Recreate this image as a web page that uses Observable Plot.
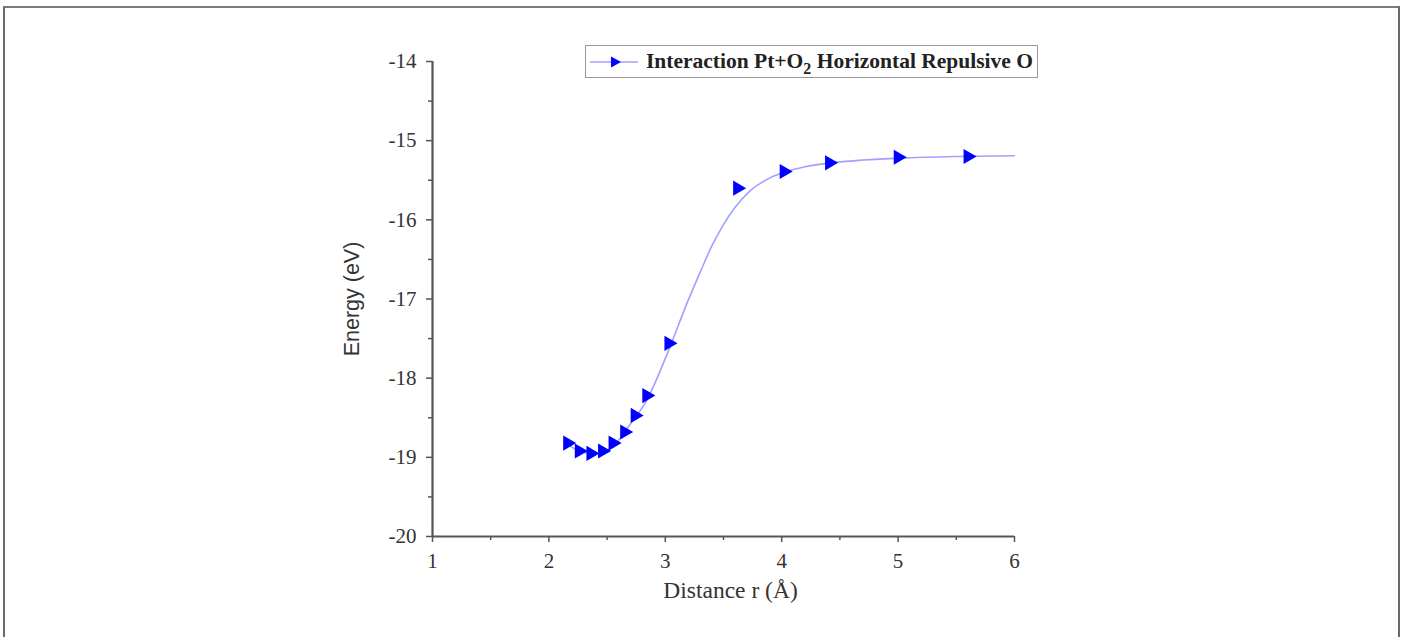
<!DOCTYPE html>
<html>
<head>
<meta charset="utf-8">
<script src="https://cdn.jsdelivr.net/npm/d3@7"></script>
<script src="https://cdn.jsdelivr.net/npm/@observablehq/plot@0.6"></script>
<style>
  html, body { margin: 0; padding: 0; background: #fff; }
  #wrap { position: relative; width: 1405px; height: 637px; overflow: hidden; }
  #frame { position: absolute; left: 3px; top: 6px; width: 1393px; height: 700px;
           border-left: 2px solid #6a6a6a; border-top: 2px solid #7a7a7a; border-right: 2px solid #6a6a6a; }
  #legend { position: absolute; left: 585px; top: 45px; width: 453px; height: 33px;
            border: 1.5px solid #999; background: #fff; box-sizing: border-box;
            font-family: "Liberation Serif", serif; font-weight: bold; font-size: 21.5px; color: #222;
            display: flex; align-items: center; white-space: nowrap; }
  #legend svg { margin-left: 4px; margin-right: 8px; }
  #legend sub { font-size: 16px; vertical-align: -6px; line-height: 0; }
</style>
</head>
<body>
<div id="wrap">
  <div id="chart"></div>
  <div id="frame"></div>
  <div id="legend">
    <svg width="48" height="14"><line x1="0" y1="7" x2="48" y2="7" stroke="#a0a0ff" stroke-width="1.5"/><path d="M21,1.5 L31,7 L21,12.5 Z" fill="#0000ff"/></svg>
    <span>Interaction Pt+O<sub>2</sub> Horizontal Repulsive O</span>
  </div>
</div>
<script>
// Measured points
const distance = [2.16, 2.26, 2.36, 2.46, 2.55, 2.65, 2.74, 2.84, 3.03, 3.62, 4.02, 4.41, 5.00, 5.60];
const energy = [-18.82, -18.92, -18.95, -18.92, -18.82, -18.68, -18.47, -18.22, -17.56, -15.60, -15.39, -15.28, -15.21, -15.20];

// Fitted curve
const fitDistance = [2.16, 2.26, 2.36, 2.47, 2.59, 2.70, 2.84, 3.02, 3.19, 3.30, 3.40, 3.50, 3.59, 3.73, 3.90, 4.02, 4.20, 4.42, 4.70, 5.02, 5.50, 6.00];
const fitEnergy = [-18.84, -18.92, -18.95, -18.93, -18.80, -18.58, -18.28, -17.68, -17.04, -16.66, -16.33, -16.06, -15.86, -15.63, -15.47, -15.40, -15.33, -15.28, -15.245, -15.22, -15.20, -15.19];

const xTicks = [1, 2, 3, 4, 5, 6];
const xMinor = [1.5, 2.5, 3.5, 4.5, 5.5];
const yTicks = [-20, -19, -18, -17, -16, -15, -14];
const yMinor = [-19.5, -18.5, -17.5, -16.5, -15.5, -14.5];

const points = distance.map((d, i) => ({r: d, e: energy[i]}));
const fit = fitDistance.map((d, i) => ({r: d, e: fitEnergy[i]}));

const axisColor = "#555";
const serif = "Liberation Serif, Times New Roman, serif";

const chart = Plot.plot({
  width: 1405,
  height: 637,
  marginLeft: 432,
  marginRight: 391,
  marginTop: 61,
  marginBottom: 101,
  style: { fontFamily: serif, background: "transparent", overflow: "visible" },
  x: { domain: [1, 6] },
  y: { domain: [-20, -14] },
  marks: [
    Plot.axisX({ ticks: xTicks, tickSize: 6, tickPadding: 11, tickFormat: d => `${d}`, fontSize: 21, stroke: axisColor, strokeWidth: 1.5, color: "#333", label: null }),
    Plot.axisX({ ticks: xMinor, tickSize: 4, tickFormat: () => "", stroke: axisColor, strokeWidth: 1.5, label: null }),
    Plot.axisY({ ticks: yTicks, tickSize: 6, tickPadding: 10, tickFormat: d => `${d}`, fontSize: 21, stroke: axisColor, strokeWidth: 1.5, color: "#333", label: null }),
    Plot.axisY({ ticks: yMinor, tickSize: 4, tickFormat: () => "", stroke: axisColor, strokeWidth: 1.5, label: null }),
    Plot.ruleX([1], { y1: -20, y2: -14, stroke: axisColor, strokeWidth: 2.2 }),
    Plot.ruleY([-20], { x1: 1, x2: 6, stroke: axisColor, strokeWidth: 2.2 }),
    Plot.line(fit, { x: "r", y: "e", curve: "monotone-x", stroke: "#a0a0ff", strokeWidth: 1.6 }),
    Plot.dot(points, { x: "r", y: "e", symbol: "triangle", rotate: 90, r: 5.6, fill: "#0000ff", stroke: "none" }),
    Plot.text(["Distance r (Å)"], { frameAnchor: "bottom", dx: 7, dy: 61, fontSize: 23.5, fill: "#333", fontFamily: serif }),
    Plot.text(["Energy (eV)"], { frameAnchor: "left", textAnchor: "middle", dx: -80, rotate: -90, fontSize: 21.5, fill: "#333", fontFamily: "Liberation Sans, Arial, sans-serif" })
  ]
});
document.getElementById("chart").appendChild(chart);
</script>
</body>
</html>
